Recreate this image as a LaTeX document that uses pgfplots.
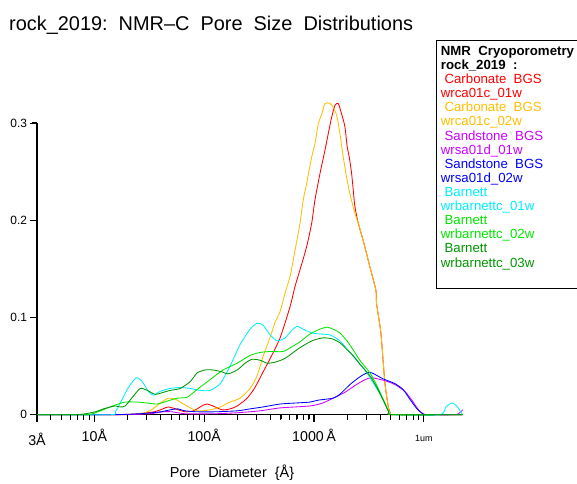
\documentclass[border=0pt]{standalone}
\usepackage{fontspec}
\setmainfont{Liberation Sans}
\usepackage{pgfplots}
\pgfplotsset{compat=1.18}
\definecolor{cRed}{RGB}{255,0,0}
\definecolor{cOrange}{RGB}{255,190,0}
\definecolor{cViolet}{RGB}{204,0,255}
\definecolor{cBlue}{RGB}{0,0,255}
\definecolor{cCyan}{RGB}{0,238,255}
\definecolor{cLime}{RGB}{0,230,0}
\definecolor{cDark}{RGB}{0,150,0}
\begin{document}
\begin{tikzpicture}
\path (0,0) rectangle (577bp,482bp);
\begin{axis}[
  at={(37bp,67bp)}, anchor=south west,
  scale only axis, width=426bp, height=292bp,
  xmode=log, xmin=3, xmax=22600, ymin=0, ymax=0.3,
  clip=false,
  axis lines=left,
  axis line style={-, line width=1.3pt},
  every outer x axis line/.append style={-},
  every outer y axis line/.append style={-},
  tick align=outside,
  major tick length=0.23cm, minor tick length=0.14cm,
  tick style={draw=black, line width=0.8pt},
  xtick={3,10,100,1000,10000},
  xticklabels={\raisebox{-4bp}{3Å},10Å,100Å,1000\,Å,{\fontsize{9}{10}\selectfont 1um}},
  minor xtick={4,5,6,7,8,9,20,30,40,50,60,70,80,90,200,300,400,500,600,700,800,900,2000,3000,4000,5000,6000,7000,8000,9000},
  xticklabel style={font=\fontsize{14.3}{15}\selectfont, anchor=base, yshift=-20.7bp},
  ytick={0,0.1,0.2,0.3}, yticklabels={0,0.1,0.2,0.3},
  yticklabel style={font=\fontsize{12}{13}\selectfont},
  xlabel={Pore\ \ Diameter\ \ \{Å\}},
  xlabel style={at={(axis description cs:0.458,0)}, anchor=base, yshift=-62.5bp, font=\fontsize{14.5}{15}\selectfont},
  after end axis/.code={%
    \foreach \xv in {4,5,6,7,8,9,20,30,40,50,60,70,80,90,200,300,400,500,600,700,800,900,2000,3000,4000,5000,6000,7000,8000,9000}{%
      \draw[black, line width=1pt] (axis cs:\xv,0) -- ++(0,-5bp);}%
    \foreach \xw in {3,10,100,1000,10000}{%
      \draw[black, line width=1.2pt] (axis cs:\xw,0) -- ++(0,-7.5bp);}%
    \foreach \yv in {0,0.1,0.2,0.3}{%
      \draw[black, line width=1pt] (axis cs:3,\yv) -- ++(-4.5bp,0);}%
  },
]
\pgfplotsset{every axis plot/.append style={line width=0.85pt, smooth, tension=0.4}}
\addplot[cRed] coordinates {(3,0)(15,0)(25,0.001)(35,0.003)(42,0.006)(47,0.008)(55,0.006)(67,0.003)(80,0.004)(95,0.009)(106,0.011)(120,0.009)(146,0.005)(172,0.006)(200,0.009)(246,0.017)(290,0.028)(344,0.044)(400,0.058)(491,0.079)(605,0.111)(672,0.132)(746,0.149)(858,0.173)(953,0.197)(1021,0.221)(1134,0.248)(1259,0.272)(1349,0.289)(1449,0.306)(1552,0.318)(1663,0.320)(1786,0.309)(1913,0.296)(2008,0.275)(2094,0.265)(2201,0.248)(2277,0.231)(2359,0.214)(2528,0.197)(2807,0.179)(3229,0.152)(3661,0.128)(3715,0.114)(4066,0.084)(4421,0.033)(4750,0.008)(4950,0.002)(5250,0)(22600,0)};
\addplot[cOrange] coordinates {(3,0)(20,0)(26,0.001)(32,0.004)(40,0.012)(47,0.017)(54.5,0.016)(67,0.010)(86,0.004)(113,0.005)(140,0.008)(172,0.013)(212,0.017)(262,0.027)(303,0.040)(344,0.060)(400,0.080)(442,0.095)(491,0.106)(545,0.125)(605,0.142)(672,0.169)(746,0.197)(799,0.221)(858,0.238)(953,0.265)(1021,0.279)(1094,0.299)(1175,0.309)(1259,0.320)(1398,0.320)(1498,0.316)(1608,0.308)(1723,0.289)(1847,0.265)(1983,0.244)(2125,0.227)(2359,0.207)(2528,0.197)(2807,0.179)(3229,0.152)(3661,0.128)(3715,0.114)(4066,0.084)(4421,0.033)(4750,0.008)(4950,0.001)(5250,0)(22600,0)};
\addplot[cViolet] coordinates {(3,0)(17,0)(32,0.001)(42,0.003)(51,0.003)(67,0.001)(126,0.001)(200,0.002)(323,0.004)(491,0.007)(920,0.009)(1200,0.012)(1490,0.017)(1913,0.023)(2359,0.030)(2908,0.036)(3370,0.038)(4421,0.035)(5451,0.031)(6714,0.024)(7780,0.015)(8818,0.006)(9800,0.001)(11220,0)(19130,0)(21250,0.002)(22600,0.005)};
\addplot[cBlue] coordinates {(3,0)(14,0)(26,0.001)(40,0.003)(49,0.005)(57,0.006)(67,0.004)(86,0.003)(126,0.003)(200,0.004)(262,0.006)(344,0.008)(491,0.011)(672,0.012)(920,0.013)(1094,0.015)(1490,0.017)(1722,0.021)(2125,0.031)(2620,0.039)(3035,0.043)(3370,0.043)(4240,0.037)(5451,0.032)(6470,0.026)(7460,0.016)(8670,0.006)(9800,0.001)(10870,0)(22600,0)};
\addplot[cCyan] coordinates {(3,0)(14,0)(15.5,0.003)(17.2,0.012)(20.4,0.028)(24.1,0.038)(27.3,0.034)(31,0.024)(34.4,0.020)(39.8,0.024)(49,0.027)(60.5,0.028)(74.6,0.027)(91.9,0.025)(113,0.025)(140,0.032)(172,0.050)(212,0.072)(262,0.088)(303,0.094)(344,0.092)(400,0.082)(461,0.076)(545,0.079)(631,0.087)(700,0.091)(794,0.088)(960,0.084)(1134,0.083)(1398,0.082)(1723,0.076)(2125,0.064)(2620,0.052)(3035,0.043)(3585,0.030)(4300,0.015)(4800,0.003)(5200,0)(14000,0)(15849,0.008)(18000,0.012)(19953,0.009)(22200,0.001)(22600,0)};
\addplot[cLime] coordinates {(3,0)(8.3,0)(10.2,0.002)(12.6,0.006)(15.5,0.010)(19.1,0.013)(24.6,0.013)(30.3,0.012)(37.4,0.011)(46.1,0.014)(56.9,0.017)(70,0.018)(86.3,0.026)(113,0.036)(148.8,0.046)(200,0.053)(262,0.061)(323,0.064)(400,0.065)(523,0.065)(631,0.070)(746,0.075)(920,0.083)(1134,0.088)(1314,0.090)(1490,0.088)(1722,0.084)(1995,0.076)(2263,0.067)(2620,0.056)(3229,0.043)(3740,0.030)(4300,0.015)(4800,0.003)(5200,0)(22600,0)};
\addplot[cDark] coordinates {(3,0)(6.7,0)(8.3,0.001)(10.2,0.003)(12.07,0.006)(14,0.008)(15.5,0.009)(17.2,0.008)(19.1,0.009)(22.2,0.018)(26.2,0.027)(30.3,0.025)(35.8,0.021)(42.4,0.023)(49,0.025)(60.5,0.027)(74.6,0.034)(86.3,0.043)(102,0.046)(120.7,0.046)(145.7,0.044)(165.3,0.042)(200,0.046)(236,0.053)(273,0.057)(323,0.056)(374,0.053)(442,0.054)(545,0.058)(746,0.069)(960,0.076)(1208,0.079)(1460,0.078)(1722,0.074)(1995,0.067)(2263,0.061)(2620,0.052)(3229,0.040)(3740,0.028)(4300,0.014)(4800,0.003)(5200,0)(22600,0)};
\end{axis}
\node[anchor=base west, inner sep=0pt, font=\fontsize{20}{22}\selectfont] at (9bp,451bp) {rock\_2019:\ \ NMR–C\ \ Pore\ \ Size\ \ Distributions};
\draw[line width=0.8pt] (437bp,193bp) -- (577bp,193bp) (437bp,193bp) -- (437bp,442bp) -- (577bp,442bp);
\node[anchor=north west, align=left, inner sep=0pt, font=\fontsize{13.3}{14.17}\selectfont] at (441bp,436bp) {%
\textbf{NMR\ \ Cryoporometry}\\
\textbf{rock\_2019\ \ :}\\
\textcolor{cRed}{\ Carbonate\ \ BGS}\\
\textcolor{cRed}{wrca01c\_01w}\\
\textcolor{cOrange}{\ Carbonate\ \ BGS}\\
\textcolor{cOrange}{wrca01c\_02w}\\
\textcolor{cViolet}{\ Sandstone\ \ BGS}\\
\textcolor{cViolet}{wrsa01d\_01w}\\
\textcolor{cBlue}{\ Sandstone\ \ BGS}\\
\textcolor{cBlue}{wrsa01d\_02w}\\
\textcolor{cCyan}{\ Barnett}\\
\textcolor{cCyan}{wrbarnettc\_01w}\\
\textcolor{cLime}{\ Barnett}\\
\textcolor{cLime}{wrbarnettc\_02w}\\
\textcolor{cDark}{\ Barnett}\\
\textcolor{cDark}{wrbarnettc\_03w}};
\end{tikzpicture}
\end{document}
